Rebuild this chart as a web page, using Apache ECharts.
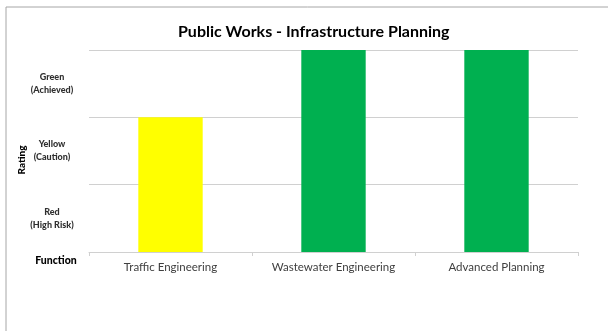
<!DOCTYPE html>
<html><head><meta charset="utf-8">
<script src="https://cdn.jsdelivr.net/npm/echarts@6/dist/echarts.min.js"></script>
<style>html,body{margin:0;padding:0;background:#fff}#c{width:608px;height:331px}</style>
</head><body><div id="c"></div>
<script>
var categories = ["Traffic Engineering", "Wastewater Engineering", "Advanced Planning"];
var ratings = [2, 3, 3];
var barColors = ["#FFFF00", "#00B050", "#00B050"];
var ratingLabels = ["Red\n(High Risk)", "Yellow\n(Caution)", "Green\n(Achieved)"];
var titleText = "Public Works - Infrastructure Planning";

var chart = echarts.init(document.getElementById('c'), null, {renderer: 'canvas'});
var font = 'Lato, "Open Sans", sans-serif';
chart.setOption({
  animation: false,
  title: {text: titleText, left: 173, top: 19,
    textStyle: {fontFamily: font, fontWeight: 'bold', fontSize: 16, color: '#000'}},
  grid: {left: 89, right: 30, top: 50, bottom: 79},
  xAxis: {type: 'category', data: categories,
    axisLine: {lineStyle: {color: '#d0d0d0'}},
    axisTick: {show: true, interval: 0, length: 4, lineStyle: {color: '#d0d0d0'}},
    axisLabel: {interval: 0, hideOverlap: false, fontFamily: font, fontSize: 11.5, color: '#404040', margin: 9}},
  yAxis: [
    {type: 'value', min: 0, max: 3, interval: 0.5,
      axisLine: {show: false}, axisTick: {show: false}, splitLine: {show: false},
      axisLabel: {fontFamily: font, fontSize: 9, fontWeight: 900, color: '#303030',
        align: 'center', margin: 37, lineHeight: 13,
        formatter: function (v) {
          var i = Math.floor(v);
          return (Math.abs(v - i - 0.5) < 1e-6 && ratingLabels[i]) ? ratingLabels[i] : '';
        }}},
    {type: 'value', min: 0, max: 3, interval: 1, position: 'left',
      axisLine: {show: false}, axisTick: {show: false}, axisLabel: {show: false},
      splitLine: {lineStyle: {color: '#d0d0d0'}}}
  ],
  series: [{type: 'bar', yAxisIndex: 1, barWidth: '39.5%',
    data: ratings.map(function (v, i) { return {value: v, itemStyle: {color: barColors[i]}}; })}],
  graphic: [
    {type: 'rect', shape: {x: 6, y: 7, width: 700, height: 400}, silent: true,
      style: {fill: 'none', stroke: '#a6a6a6', lineWidth: 1}},
    {type: 'text', x: 22, y: 160, rotation: Math.PI / 2,
      style: {text: 'Rating', fontFamily: font, fontSize: 10, fontWeight: 900, fill: '#000',
        textAlign: 'center', textVerticalAlign: 'middle'}},
    {type: 'text', x: 56, y: 261,
      style: {text: 'Function', fontFamily: font, fontSize: 10.5, fontWeight: 900, fill: '#000',
        textAlign: 'center', textVerticalAlign: 'middle'}}
  ]
});
</script></body></html>
